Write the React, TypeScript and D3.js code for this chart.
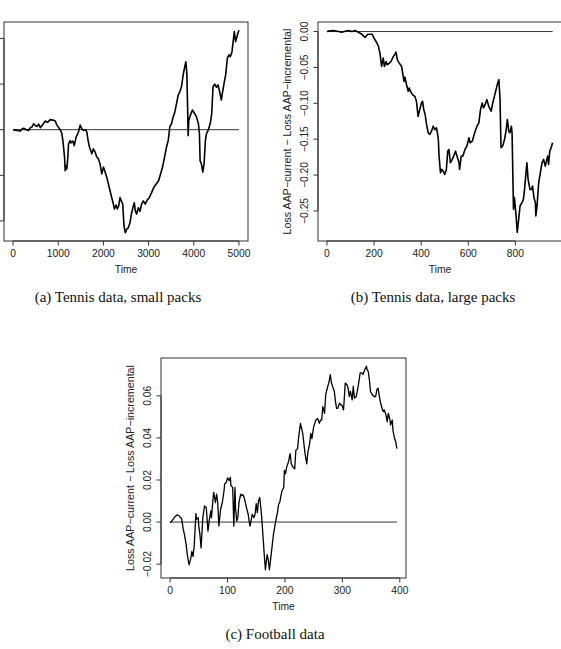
import React from "react";
import * as d3 from "d3";

// ---------- Panel (a): Tennis data, small packs ----------
const A_TIME = [0, 88, 162, 199, 235, 294, 346, 382, 419, 456, 493, 529, 566, 603, 662, 713, 765, 824, 882, 934, 971, 1029, 1059, 1081, 1103, 1118, 1140, 1154, 1176, 1191, 1213, 1228, 1265, 1279, 1324, 1353, 1397, 1449, 1485, 1522, 1559, 1603, 1632, 1662, 1691, 1721, 1743, 1779, 1816, 1853, 1890, 1926, 1963, 2000, 2037, 2074, 2110, 2147, 2184, 2221, 2243, 2280, 2309, 2338, 2368, 2397, 2427, 2456, 2485, 2515, 2551, 2588, 2625, 2662, 2684, 2706, 2735, 2772, 2809, 2846, 2882, 2926, 2971, 3015, 3066, 3118, 3176, 3221, 3265, 3309, 3353, 3397, 3434, 3471, 3507, 3544, 3581, 3618, 3655, 3691, 3728, 3765, 3801, 3824, 3846, 3860, 3875, 3890, 3926, 3971, 4022, 4059, 4103, 4125, 4140, 4169, 4199, 4228, 4257, 4279, 4324, 4368, 4397, 4426, 4463, 4500, 4537, 4574, 4610, 4632, 4669, 4706, 4743, 4779, 4809, 4846, 4868, 4897, 4926, 4956, 4978, 5000];
const A_VALUE = [0, -0.00015, -0.0003, 0.00015, 0.0003, 0, -0.00015, 0.00044, 0.0006, 0.0013, 0.0009, 0.0007, 0.0012, 0.00044, 0.0012, 0.0019, 0.0016, 0.0022, 0.0021, 0.0019, 0.001, 0.0002, -0.0003, -0.0009, -0.0024, -0.0038, -0.006, -0.009, -0.0079, -0.0086, -0.006, -0.0031, -0.0024, -0.0029, -0.0025, -0.0035, -0.0016, -0.0005, 0.001, 0.0002, -0.00015, 0, -0.0005, -0.0024, -0.0038, -0.0046, -0.0053, -0.0042, -0.0049, -0.006, -0.0064, -0.0075, -0.0097, -0.0082, -0.0093, -0.0104, -0.0119, -0.0134, -0.0149, -0.0163, -0.0174, -0.0165, -0.0174, -0.0167, -0.0149, -0.0156, -0.0163, -0.0211, -0.0226, -0.0218, -0.0215, -0.0204, -0.0182, -0.0167, -0.016, -0.0178, -0.0185, -0.0171, -0.0179, -0.0163, -0.0156, -0.0163, -0.0154, -0.0149, -0.0138, -0.0126, -0.0118, -0.0112, -0.0097, -0.0082, -0.006, -0.0038, -0.0024, 0.0007, 0.0013, 0.0028, 0.0039, 0.0057, 0.0076, 0.0083, 0.0094, 0.012, 0.0138, 0.0149, 0.0124, 0.0065, -0.0013, 0.0021, 0.0032, 0.0043, 0.0035, 0.0028, 0.0013, -0.0009, -0.0068, -0.0075, -0.0093, -0.0075, -0.0024, -0.0009, 0, 0.0015, 0.0035, 0.0094, 0.01, 0.0093, 0.0098, 0.0083, 0.0065, 0.0079, 0.0101, 0.012, 0.0157, 0.0164, 0.016, 0.0171, 0.019, 0.0215, 0.0193, 0.0204, 0.0212, 0.0218];
const A_XTICKS = [0, 1000, 2000, 3000, 4000, 5000];
const A_YTICKS = [-0.02, -0.01, 0, 0.01, 0.02];

// ---------- Panel (b): Tennis data, large packs ----------
const B_TIME = [0, 14, 28, 49, 63, 77, 92, 106, 120, 130, 141, 148, 155, 162, 172, 183, 192, 200, 211, 218, 225, 232, 239, 244, 251, 256, 265, 272, 282, 289, 293, 299, 307, 317, 327, 331, 338, 345, 349, 355, 363, 373, 380, 387, 394, 401, 406, 411, 417, 423, 430, 437, 444, 451, 458, 465, 469, 473, 476, 482, 487, 493, 500, 507, 513, 518, 524, 532, 538, 546, 552, 561, 563, 570, 577, 586, 594, 603, 608, 617, 627, 637, 645, 652, 659, 665, 673, 679, 687, 697, 704, 711, 718, 725, 730, 735, 739, 746, 754, 761, 766, 772, 777, 783, 786, 792, 796, 803, 808, 814, 820, 828, 834, 839, 845, 849, 854, 862, 869, 873, 879, 885, 887, 892, 899, 906, 913, 920, 927, 937, 941, 946, 952, 958];
const B_VALUE = [0, 0.0009, 0.0014, 0, -0.0009, 0.0005, 0.0014, 0, 0.0014, -0.0005, -0.0023, -0.0037, -0.006, -0.0083, -0.0042, -0.0037, -0.0037, -0.0093, -0.0153, -0.0199, -0.0301, -0.0486, -0.037, -0.0486, -0.0417, -0.0463, -0.044, -0.0417, -0.0347, -0.0315, -0.0287, -0.0394, -0.044, -0.0486, -0.0694, -0.0634, -0.0741, -0.0833, -0.0787, -0.0833, -0.088, -0.0903, -0.0972, -0.1181, -0.1088, -0.0995, -0.0972, -0.1088, -0.1157, -0.1296, -0.1412, -0.1435, -0.1389, -0.1319, -0.1366, -0.1343, -0.1412, -0.1505, -0.1736, -0.1968, -0.1921, -0.1944, -0.1991, -0.1921, -0.1667, -0.1644, -0.1829, -0.1782, -0.1736, -0.1667, -0.1736, -0.1829, -0.1921, -0.1736, -0.1736, -0.1644, -0.1597, -0.1481, -0.1551, -0.1528, -0.1412, -0.1319, -0.1273, -0.1088, -0.0995, -0.1065, -0.1005, -0.0949, -0.1042, -0.1111, -0.0995, -0.0903, -0.081, -0.0718, -0.0671, -0.0949, -0.162, -0.1597, -0.1505, -0.1366, -0.1227, -0.1389, -0.1412, -0.1319, -0.1412, -0.2477, -0.2315, -0.2569, -0.2801, -0.2616, -0.2431, -0.2384, -0.2338, -0.2199, -0.1968, -0.1829, -0.206, -0.2199, -0.2199, -0.2153, -0.2315, -0.2384, -0.2569, -0.2431, -0.2106, -0.1968, -0.1829, -0.1782, -0.1875, -0.1736, -0.1852, -0.1667, -0.162, -0.1551];
const B_XTICKS = [0, 200, 400, 600, 800];
const B_YTICKS = [-0.25, -0.2, -0.15, -0.1, -0.05, 0];

// ---------- Panel (c): Football data ----------
const C_TIME = [0, 4, 8, 12, 16, 18, 20, 23, 25, 28, 30, 33, 36, 38, 40, 42, 45, 46, 49, 50, 52, 54, 57, 60, 63, 66, 68, 71, 72, 75, 76, 79, 81, 83, 85, 88, 91, 94, 95, 98, 100, 103, 105, 106, 109, 111, 113, 114, 116, 118, 120, 123, 125, 127, 129, 133, 136, 139, 141, 143, 146, 148, 150, 152, 154, 156, 158, 160, 162, 164, 166, 169, 171, 173, 176, 178, 180, 183, 185, 187, 189, 191, 193, 195, 198, 199, 201, 203, 206, 209, 211, 214, 217, 219, 222, 224, 227, 229, 231, 234, 235, 238, 240, 243, 245, 247, 250, 252, 254, 257, 260, 262, 264, 266, 269, 271, 273, 277, 279, 281, 283, 286, 288, 290, 292, 295, 297, 299, 302, 303, 305, 308, 310, 312, 314, 317, 319, 321, 324, 326, 328, 331, 334, 336, 339, 342, 343, 345, 347, 349, 352, 355, 358, 360, 362, 364, 366, 369, 371, 373, 376, 378, 380, 383, 384, 387, 388, 391, 393, 395];
const C_VALUE = [-0.0003, 0.0008, 0.0024, 0.0034, 0.003, 0.0021, 0.0018, -0.0035, -0.0059, -0.0107, -0.0155, -0.0203, -0.0174, -0.0139, -0.0163, -0.0115, 0.004, 0.0013, 0.0021, -0.0019, -0.0059, -0.0123, 0.0021, 0.0077, 0.0069, -0.0043, 0.0005, 0.0053, 0.0021, 0.0117, 0.0141, 0.0093, 0.0133, 0.0093, -0.0019, 0.0061, 0.0093, 0.0149, 0.0181, 0.0189, 0.021, 0.0197, 0.0213, 0.0173, 0.0165, -0.0019, 0.0165, 0.0069, 0.0005, 0.0021, 0.0093, 0.0133, 0.0125, 0.013, 0.0117, 0.0069, 0.0037, -0.0019, 0.0005, 0.0037, 0.0021, 0.0037, 0.0088, 0.0045, 0.0101, 0.0117, 0.0069, 0.0005, -0.0075, -0.0155, -0.0227, -0.0155, -0.0179, -0.0227, -0.0155, -0.0107, -0.0059, -0.0011, 0.0021, 0.0045, 0.0085, 0.0093, 0.0125, 0.0149, 0.0165, 0.0245, 0.0229, 0.0261, 0.0285, 0.0325, 0.0277, 0.0261, 0.0253, 0.0341, 0.0349, 0.0405, 0.0469, 0.0445, 0.0421, 0.0349, 0.0325, 0.0277, 0.0333, 0.0373, 0.0421, 0.0397, 0.0453, 0.0469, 0.0485, 0.0493, 0.0469, 0.0485, 0.0485, 0.0549, 0.0517, 0.0605, 0.0629, 0.0669, 0.0701, 0.0661, 0.0645, 0.0621, 0.0573, 0.0541, 0.0541, 0.0565, 0.0557, 0.0557, 0.0533, 0.0573, 0.0661, 0.0653, 0.0637, 0.0597, 0.0621, 0.0581, 0.0645, 0.0589, 0.0597, 0.0621, 0.0653, 0.0709, 0.0709, 0.0701, 0.0725, 0.0741, 0.0725, 0.0717, 0.0677, 0.0621, 0.0605, 0.0597, 0.0597, 0.0629, 0.0637, 0.0605, 0.0573, 0.0541, 0.0525, 0.0533, 0.0509, 0.0477, 0.0517, 0.0485, 0.0461, 0.0485, 0.0437, 0.0397, 0.0381, 0.0349];
const C_XTICKS = [0, 100, 200, 300, 400];
const C_YTICKS = [-0.02, 0, 0.02, 0.04, 0.06];

const Y_TITLE = "Loss AAP\u2212current \u2212 Loss AAP\u2212incremental";
const X_TITLE = "Time";
const CAPTIONS = ["(a) Tennis data, small packs", "(b) Tennis data, large packs", "(c) Football data"];

const SANS = "'Liberation Sans', Arial, Helvetica, sans-serif";
const SERIF = "'Liberation Serif', 'Times New Roman', serif";

type PanelProps = {
  left: number; top: number; width: number; height: number;
  time: number[]; value: number[];
  xDomain: [number, number]; yDomain: [number, number];
  xTicks: number[]; yTicks: number[]; yFmt: (v: number) => string;
  showYText: boolean; lineWidth: number;
  caption: string; captionX: number; captionY: number;
};

const fmtMinus = (s: string) => s.replace("-", "\u2212");

function Panel(p: PanelProps) {
  const x = d3.scaleLinear().domain(p.xDomain).range([p.left, p.left + p.width]);
  const y = d3.scaleLinear().domain(p.yDomain).range([p.top + p.height, p.top]);
  const pts = p.time.map((t, i) => [t, p.value[i]] as [number, number]);
  const line = d3.line<[number, number]>().x((d) => x(d[0])).y((d) => y(d[1]));
  const tMin = d3.min(p.time) as number;
  const tMax = d3.max(p.time) as number;
  const bottom = p.top + p.height;
  const tick = 4.5;
  return (
    <g>
      <line x1={x(tMin)} x2={x(tMax)} y1={y(0)} y2={y(0)} stroke="#333" strokeWidth={1} />
      <path d={line(pts) || ""} fill="none" stroke="#000" strokeWidth={p.lineWidth} strokeLinejoin="round" />
      <rect x={p.left} y={p.top} width={p.width} height={p.height} fill="none" stroke="#333" strokeWidth={1} />
      <line x1={x(p.xTicks[0])} x2={x(p.xTicks[p.xTicks.length - 1])} y1={bottom} y2={bottom} stroke="#333" />
      {p.xTicks.map((t) => (
        <g key={"xt" + t}>
          <line x1={x(t)} x2={x(t)} y1={bottom} y2={bottom + tick} stroke="#333" />
          <text x={x(t)} y={bottom + 15.5} textAnchor="middle" fontSize={10.3} fontFamily={SANS} fill="#222">{t}</text>
        </g>
      ))}
      <text x={p.left + p.width / 2} y={bottom + 32} textAnchor="middle" fontSize={10.3} fontFamily={SANS} fill="#222">{X_TITLE}</text>
      <line x1={p.left} x2={p.left} y1={y(p.yTicks[0])} y2={y(p.yTicks[p.yTicks.length - 1])} stroke="#333" />
      {p.yTicks.map((v) => (
        <g key={"yt" + v}>
          <line x1={p.left} x2={p.left - tick} y1={y(v)} y2={y(v)} stroke="#333" />
          {p.showYText && (
            <text transform={`translate(${p.left - 10.5},${y(v)}) rotate(-90)`} textAnchor="middle" fontSize={10.3} fontFamily={SANS} fill="#222">{p.yFmt(v)}</text>
          )}
        </g>
      ))}
      {p.showYText && (
        <text transform={`translate(${p.left - 27.5},${p.top + p.height / 2}) rotate(-90)`} textAnchor="middle" fontSize={10.7} fontFamily={SANS} fill="#222">{Y_TITLE}</text>
      )}
      <text x={p.captionX} y={p.captionY} textAnchor="middle" fontSize={15} fontFamily={SERIF} fill="#111">{p.caption}</text>
    </g>
  );
}

export default function App() {
  const f2 = (v: number) => fmtMinus(d3.format(".2f")(v));
  return (
    <svg width={561} height={649} viewBox="0 0 561 649" style={{ position: "absolute", left: 0, top: 0, background: "#fff" }}>
      <rect x={0} y={0} width={561} height={649} fill="#fff" />
      <Panel left={4} top={22} width={244} height={219} time={A_TIME} value={A_VALUE}
        xDomain={[-200, 5200]} yDomain={[-0.0244, 0.0236]} xTicks={A_XTICKS} yTicks={A_YTICKS}
        yFmt={f2} showYText={false} lineWidth={1.6}
        caption={CAPTIONS[0]} captionX={118} captionY={302} />
      <Panel left={318} top={22} width={244} height={219} time={B_TIME} value={B_VALUE}
        xDomain={[-38, 998]} yDomain={[-0.2919, 0.0133]} xTicks={B_XTICKS} yTicks={B_YTICKS}
        yFmt={f2} showYText={true} lineWidth={1.6}
        caption={CAPTIONS[1]} captionX={433} captionY={302} />
      <Panel left={161} top={358} width={245} height={220} time={C_TIME} value={C_VALUE}
        xDomain={[-15.8, 410.8]} yDomain={[-0.0266, 0.078]} xTicks={C_XTICKS} yTicks={C_YTICKS}
        yFmt={f2} showYText={true} lineWidth={1.3}
        caption={CAPTIONS[2]} captionX={275} captionY={639} />
    </svg>
  );
}
